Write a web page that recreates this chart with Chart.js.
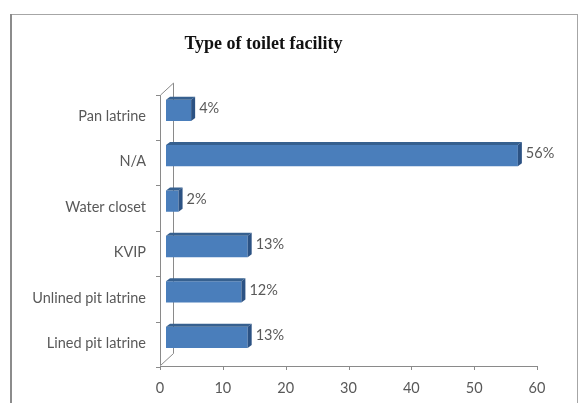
<!DOCTYPE html>
<html>
<head>
<meta charset="utf-8">
<script src="https://cdn.jsdelivr.net/npm/chart.js@4"></script>
<style>
html,body{margin:0;padding:0;background:#fff;}
#wrap{position:relative;width:581px;height:403px;}
</style>
</head>
<body>
<div id="wrap"><canvas id="c" width="581" height="403"></canvas></div>
<script>
const categories = ["Pan latrine", "N/A", "Water closet", "KVIP", "Unlined pit latrine", "Lined pit latrine"];
const percentages = [4, 56, 2, 13, 12, 13];
const xTicks = [0, 10, 20, 30, 40, 50, 60];
const chartTitle = "Type of toilet facility";

const LABEL_FONT = "Lato, 'Open Sans', sans-serif";
const GRAY = "#595959";
const AXIS = "#8a8a8a";

const framePlugin = {
  id: 'frame',
  beforeDraw(chart) {
    const ctx = chart.ctx;
    ctx.save();
    ctx.fillStyle = '#fff';
    ctx.fillRect(0, 0, chart.width, chart.height);
    ctx.strokeStyle = '#a6a6a6';
    ctx.lineWidth = 1;
    ctx.strokeRect(11.5, 14.5, 566, 420);
    ctx.strokeStyle = '#8c8c8c';
    ctx.lineWidth = 2;
    ctx.beginPath(); ctx.moveTo(11, 14); ctx.lineTo(11, 403); ctx.stroke();
    ctx.restore();
  }
};

const axes3dPlugin = {
  id: 'axes3d',
  beforeDatasetsDraw(chart) {
    const ctx = chart.ctx, a = chart.chartArea;
    const xs = chart.scales.x;
    const base = xs.getPixelForValue(0);
    const fx = base - 6, bx = base + 7;
    const ftop = a.top + 7.5, fbot = a.bottom + 5.5;
    const btop = a.top - 4.5, bbot = a.bottom - 6.5;
    ctx.save();
    ctx.strokeStyle = AXIS;
    ctx.lineWidth = 1;
    ctx.beginPath();
    ctx.moveTo(fx + 0.5, ftop); ctx.lineTo(fx + 0.5, fbot);
    ctx.moveTo(bx + 0.5, btop); ctx.lineTo(bx + 0.5, bbot);
    ctx.moveTo(fx + 0.5, ftop); ctx.lineTo(bx + 0.5, btop);
    ctx.moveTo(fx + 0.5, fbot); ctx.lineTo(bx + 0.5, bbot);
    const xEnd = xs.getPixelForValue(xTicks[xTicks.length - 1]) - 6;
    ctx.moveTo(fx, Math.round(fbot) + 0.5); ctx.lineTo(xEnd, Math.round(fbot) + 0.5);
    xTicks.forEach(t => {
      const px = Math.round(xs.getPixelForValue(t) - 6) + 0.5;
      ctx.moveTo(px, Math.round(fbot)); ctx.lineTo(px, Math.round(fbot) + 4);
    });
    const n = categories.length;
    for (let i = 0; i <= n; i++) {
      const y = Math.round(a.top + (a.bottom - a.top) * i / n + 7) + 0.5;
      ctx.moveTo(fx - 4, y); ctx.lineTo(fx, y);
    }
    ctx.stroke();
    ctx.restore();
  }
};

const bar3dPlugin = {
  id: 'bar3d',
  afterDatasetsDraw(chart) {
    const ctx = chart.ctx;
    const meta = chart.getDatasetMeta(0);
    ctx.save();
    meta.data.forEach((bar, i) => {
      const p = bar.getProps(['x', 'y', 'base', 'height'], true);
      const top = p.y - p.height / 2, bot = p.y + p.height / 2;
      const dx = 4, dy = 3;
      ctx.fillStyle = '#36608f';
      ctx.beginPath();
      ctx.moveTo(p.base, top); ctx.lineTo(p.x, top);
      ctx.lineTo(p.x + dx, top - dy); ctx.lineTo(p.base + dx, top - dy);
      ctx.closePath(); ctx.fill();
      ctx.fillStyle = '#2c5283';
      ctx.beginPath();
      ctx.moveTo(p.x, top); ctx.lineTo(p.x + dx, top - dy);
      ctx.lineTo(p.x + dx, bot - dy); ctx.lineTo(p.x, bot);
      ctx.closePath(); ctx.fill();
      ctx.fillStyle = GRAY;
      ctx.font = "14.5px " + LABEL_FONT;
      ctx.textAlign = 'left';
      ctx.textBaseline = 'middle';
      ctx.fillText(percentages[i] + '%', p.x + dx + 4, p.y - 2);
    });
    ctx.restore();
  }
};

new Chart(document.getElementById('c'), {
  type: 'bar',
  data: {
    labels: categories,
    datasets: [{
      data: percentages,
      backgroundColor: (c) => {
        const chart = c.chart;
        const el = c.element;
        if (!el || !chart.chartArea) return '#4a7ebb';
        const h = el.height;
        if (!Number.isFinite(el.y) || !Number.isFinite(h) || h <= 0) return '#4a7ebb';
        const g = chart.ctx.createLinearGradient(0, el.y - h / 2, 0, el.y + h / 2);
        g.addColorStop(0, '#3f72ad');
        g.addColorStop(0.5, '#4f84c4');
        g.addColorStop(1, '#3f70aa');
        return g;
      },
      borderWidth: 0,
      barPercentage: 0.47,
      categoryPercentage: 1.0
    }]
  },
  options: {
    indexAxis: 'y',
    responsive: false,
    animation: false,
    layout: { padding: { left: -16, right: 38, top: 0, bottom: 7 } },
    plugins: {
      legend: { display: false },
      tooltip: { enabled: false },
      title: {
        display: true,
        text: chartTitle,
        color: '#111',
        font: { family: "'Liberation Serif', 'DejaVu Serif', serif", size: 18, weight: 'bold', lineHeight: 1.2 },
        padding: { top: 34, bottom: 32 }
      }
    },
    scales: {
      x: {
        type: 'linear',
        min: 0, max: 60,
        afterBuildTicks: (s) => { s.ticks = xTicks.map(v => ({ value: v })); },
        afterFit: (s) => { s.height = 36; },
        grid: { display: false, drawTicks: false },
        border: { display: false },
        ticks: {
          color: GRAY,
          font: { family: LABEL_FONT, size: 14.5 },
          padding: 20,
          labelOffset: -6,
          maxRotation: 0
        }
      },
      y: {
        grid: { display: false, drawTicks: false },
        border: { display: false },
        afterFit: (s) => { s.width = 182; },
        ticks: {
          color: GRAY,
          font: { family: LABEL_FONT, size: 14.5 },
          padding: 20,
          labelOffset: 6
        }
      }
    }
  },
  plugins: [framePlugin, axes3dPlugin, bar3dPlugin]
});
</script>
</body>
</html>
